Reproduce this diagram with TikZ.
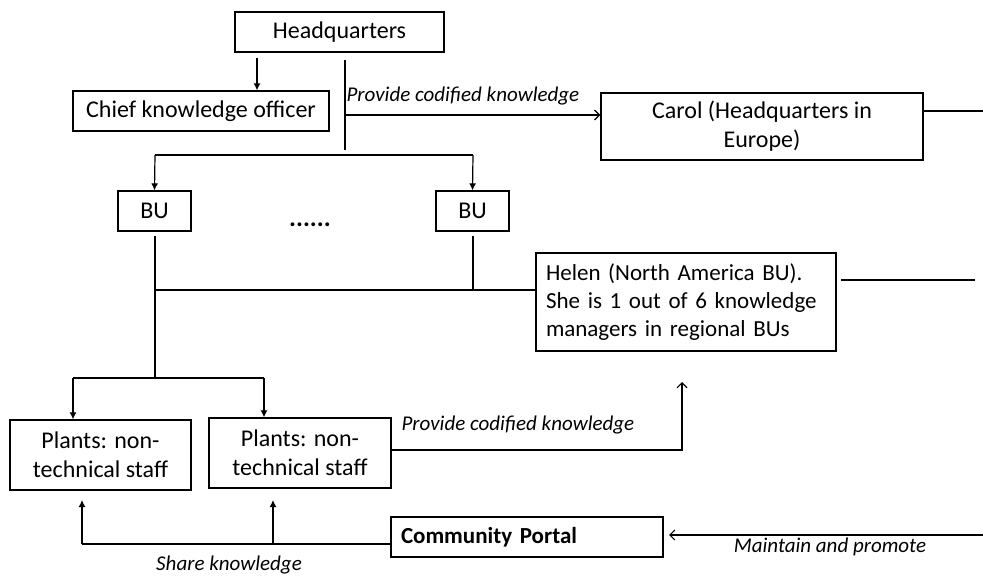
\documentclass[tikz,border=0pt]{standalone}
\usepackage{fontspec}
\setmainfont{Carlito}
\usetikzlibrary{arrows.meta}
\begin{document}
\begin{tikzpicture}[x=1pt,y=-1pt,
  line width=1.2pt,
  box/.style={draw, line width=1.3pt, inner sep=0pt, font=\fontsize{24}{29}\selectfont},
  lab/.style={font=\fontsize{21}{24}\selectfont\itshape, inner sep=0pt},
  arrfill/.style={-{Latex[length=7,width=7]}},
  arropen/.style={-{Straight Barb[length=5,width=10]}}]
\useasboundingbox (0,0) rectangle (983,578);
% boxes
\node[box, minimum width=209, minimum height=40] (hq) at (339.5,32) {Headquarters};
\node[box, minimum width=256, minimum height=40] (cko) at (201,111) {Chief knowledge officer};
\node[box, minimum width=322, minimum height=67, align=center] (carol) at (762,126.5) {Carol (Headquarters in\\Europe)};
\node[box, minimum width=73, minimum height=40] (bu1) at (154.5,211) {BU};
\node[box, minimum width=73, minimum height=40] (bu2) at (472.5,211) {BU};
\node[font=\fontsize{26}{30}\selectfont\bfseries, inner sep=0pt] (dots) at (310,225) {......};
\node[box, font=\fontsize{23}{28}\selectfont, minimum width=300, minimum height=98, align=left, text width=280, inner xsep=10pt] (helen) at (686,302) {Helen (North America BU).\\She is 1 out of 6 knowledge\\managers in regional BUs};
\node[box, minimum width=181, minimum height=70, align=center] (p1) at (100.5,455) {Plants: non-\\technical staff};
\node[box, minimum width=182, minimum height=70, align=center] (p2) at (300,453) {Plants: non-\\technical staff};
\node[box, minimum width=272, minimum height=40, font=\fontsize{23}{28}\selectfont\bfseries, text width=252, inner xsep=10pt, align=left] (portal) at (527,537) {Community Portal};
% coordinates
\coordinate (hqv1) at (345,60);
\coordinate (hqv2) at (345,150);
\coordinate (brL) at (155,155);
\coordinate (brR) at (473,155);
\coordinate (bu1b) at (155,236);
\coordinate (bu1e) at (155,378);
\coordinate (bu2b) at (473,236);
\coordinate (bu2e) at (473,290);
\coordinate (plL) at (73,378);
\coordinate (plR) at (264,378);
\coordinate (corner) at (682,450);
\coordinate (hup) at (682,382);
\coordinate (shL) at (82,544);
\coordinate (shR) at (273,544);
\coordinate (hlr1) at (841,280);
\coordinate (hlr2) at (975,280);
\coordinate (carr) at (983,111);
\coordinate (mtR) at (983,535);
\coordinate (mtL) at (669,535);
% connectors
\draw[arrfill] (hq.south -| 257,0) ++(0,5) -- (cko.north -| 257,0);
\draw (hqv1) -- (hqv2);
\draw[arropen] (hqv1 |- 0,115) -- (carol.west |- 0,115);
\draw (brL) -- (brR);
\draw[arrfill] (brL) -- (bu1.north);
\draw[arrfill] (brR) -- (bu2.north);
\draw (bu1b) -- (bu1e);
\draw (bu2b) -- (bu2e);
\draw (bu1e |- bu2e) -- (helen.west |- bu2e);
\draw (carol.east |- carr) -- (carr);
\draw (hlr1) -- (hlr2);
\draw (plL) -- (plR);
\draw[arrfill] (plL) -- (p1.north -| plL);
\draw[arrfill] (plR) -- (p2.north -| plR);
\draw[arropen] (p2.east |- corner) -- (corner) -- (hup);
\draw (portal.west |- shL) -- (shL);
\draw[arrfill] (shL) -- ++(0,-44);
\draw[arrfill] (shR) -- ++(0,-44);
\draw[arropen] (mtR) -- (mtL);
% labels
\node[lab, anchor=west] (l1) at (346,96) {Provide codified knowledge};
\node[lab, anchor=west] (l2) at (401,425) {Provide codified knowledge};
\node[lab] (l3) at (229,565) {Share knowledge};
\node[lab] (l4) at (830,547) {Maintain and promote};
\end{tikzpicture}
\end{document}
